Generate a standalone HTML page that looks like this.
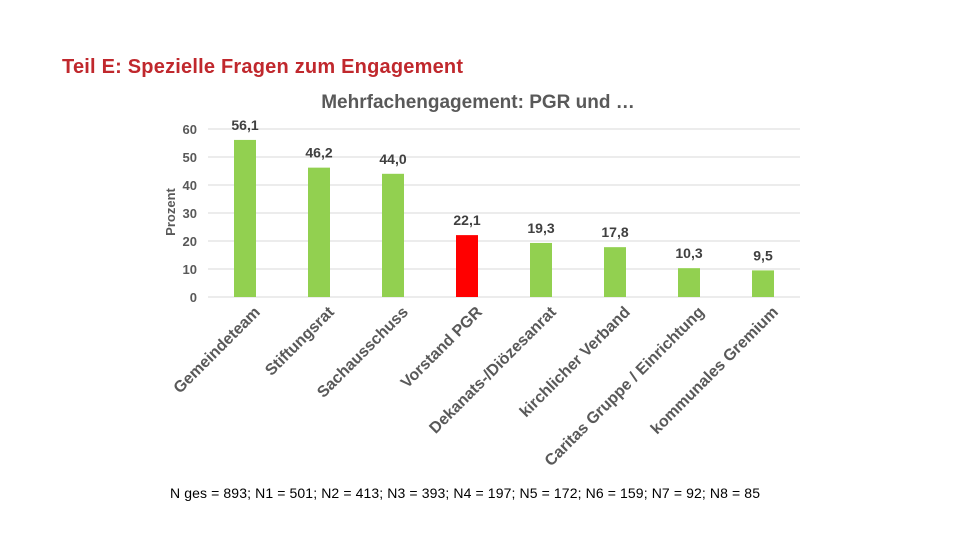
<!DOCTYPE html>
<html><head><meta charset="utf-8"><style>
body{margin:0;background:#fff;font-family:"Liberation Sans",sans-serif}
svg text{font-family:"Liberation Sans",sans-serif}
</style></head><body>
<svg width="960" height="540">
<text x="62" y="73" font-size="20" font-weight="bold" fill="#c0282d" textLength="401">Teil E: Spezielle Fragen zum Engagement</text>
<text x="478" y="108" font-size="19" font-weight="bold" fill="#595959" text-anchor="middle">Mehrfachengagement: PGR und …</text>
<text transform="translate(175,212) rotate(-90)" font-size="13" font-weight="bold" fill="#595959" text-anchor="middle">Prozent</text>
<g id="grid"></g><g id="bars"></g><g id="labels"></g>
<text x="170" y="498" font-size="14" fill="#000" textLength="590">N ges = 893; N1 = 501; N2 = 413; N3 = 393; N4 = 197; N5 = 172; N6 = 159; N7 = 92; N8 = 85</text>
</svg>
<script>
const categories=["Gemeindeteam","Stiftungsrat","Sachausschuss","Vorstand PGR","Dekanats-/Diözesanrat","kirchlicher Verband","Caritas Gruppe / Einrichtung","kommunales Gremium"];
const values=[56.1,46.2,44.0,22.1,19.3,17.8,10.3,9.5];
const valueLabels=["56,1","46,2","44,0","22,1","19,3","17,8","10,3","9,5"];
const ticks=[0,10,20,30,40,50,60];
const highlight=[false,false,false,true,false,false,false,false];
const NS="http://www.w3.org/2000/svg";
const x0=208,x1=800,y0=297,ppu=2.8;
const y=v=>y0-v*ppu;
const band=(x1-x0)/categories.length;
const cx=i=>x0+band*(i+0.5);
function mk(t,a,p,txt){const e=document.createElementNS(NS,t);for(const k in a)e.setAttribute(k,a[k]);if(txt!=null)e.textContent=txt;document.getElementById(p).appendChild(e);return e;}
ticks.forEach(t=>{
 const l=mk('line',{x1:x0,x2:x1,y1:y(t),y2:y(t),stroke:'#d9d9d9','stroke-width':1},'grid');
 
 
 const tx=mk('text',{x:197,y:y(t)+5,'font-size':13,'font-weight':'bold',fill:'#595959','text-anchor':'end'},'grid',String(t));
 
 
});
values.forEach((v,i)=>{
 const b=mk('rect',{x:cx(i)-11,y:y(v),width:22,height:v*ppu,fill:highlight[i]?'#ff0000':'#92d050'},'bars');
 
 
 const vl=mk('text',{x:cx(i),y:y(v)-10,'font-size':14,'font-weight':'bold',fill:'#404040','text-anchor':'middle'},'labels',valueLabels[i]);
 
 
 const cl=mk('text',{transform:`translate(${cx(i)+16},${y0+16}) rotate(-45)`,'font-size':16,'font-weight':'bold',fill:'#595959','text-anchor':'end'},'labels',categories[i]);
 
 
});
</script>
</body></html>
